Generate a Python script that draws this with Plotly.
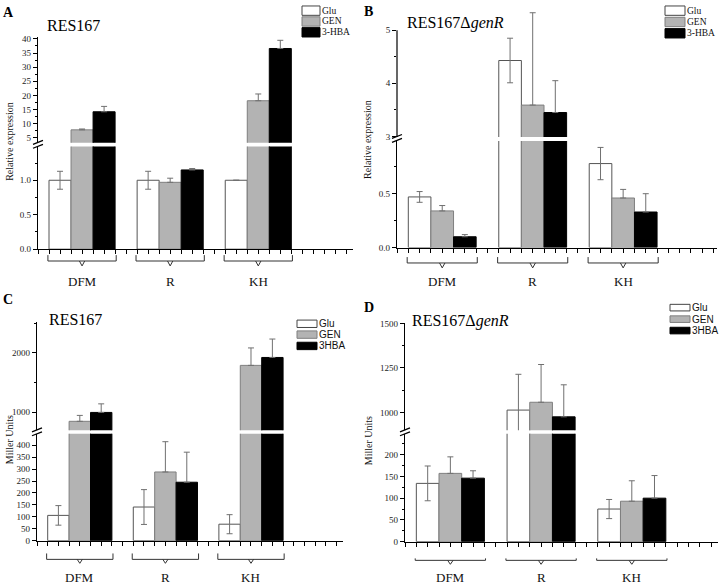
import plotly.graph_objects as go

W, H = 720, 588

groups = ["DFM", "R", "KH"]
names_ab = ["Glu", "GEN", "3-HBA"]
names_cd = ["Glu", "GEN", "3HBA"]

# panel A - RES167, relative expression
a_glu = [1.0, 1.0, 1.0]
a_glu_err = [0.13, 0.13, 0.0]
a_gen = [7.8, 0.97, 18.1]
a_gen_err = [0.3, 0.06, 2.4]
a_hba = [14.2, 1.15, 36.6]
a_hba_err = [1.9, 0.02, 2.9]

# panel B - RES167 delta genR, relative expression
b_glu = [0.47, 4.43, 0.78]
b_glu_err = [0.05, 0.42, 0.15]
b_gen = [0.34, 3.59, 0.46]
b_gen_err = [0.05, 1.74, 0.08]
b_hba = [0.10, 3.45, 0.33]
b_hba_err = [0.02, 0.60, 0.17]

# panel C - RES167, Miller units
c_glu = [106, 141, 69]
c_glu_err = [41, 73, 40]
c_gen = [843, 288, 1788]
c_gen_err = [100, 127, 295]
c_hba = [993, 245, 1922]
c_hba_err = [145, 126, 311]

# panel D - RES167 delta genR, Miller units
d_glu = [134, 1013, 75]
d_glu_err = [40, 201, 22]
d_gen = [157, 1057, 93]
d_gen_err = [38, 212, 47]
d_hba = [146, 975, 100]
d_hba_err = [17, 180, 52]

fills = ["white", "#b3b3b3", "black"]
edges = ["#555555", "#7f7f7f", "#000000"]
ERR = "#707070"
SERIF = "Liberation Serif, Times New Roman, serif"
SANS = "Liberation Sans, Arial, sans-serif"


def fx(x):
    return x / W


def fy(y):
    return 1 - y / H


panels = [
    dict(letter="A", let_pos=(8, 9), title="RES167", title_pos=(73, 22),
         ylabel="Relative expression", ylab_pos=(10, 140), names=names_ab,
         lfont=dict(family=SERIF, size=9.5),
         series=[(a_glu, a_glu_err), (a_gen, a_gen_err), (a_hba, a_hba_err)],
         xpx=(38, 353), xmax=14.3,
         low=dict(dom=(249, 144.7), rng=[0, 1.49], dtick=0.5, minor=0.25, fmt=".1f"),
         up=dict(dom=(141, 34), rng=[3.2, 40.5], dtick=5, minor=2.5, fmt=""),
         brk=142.5, br=(255, 261, 266), glab=282,
         leg=dict(x=(302, 320), rows=[2, 13, 24], h=9.5)),
    dict(letter="B", let_pos=(368, 8), title="RES167Δ<i>genR</i>", title_pos=(455, 19),
         ylabel="Relative expression", ylab_pos=(368, 138), names=names_ab,
         lfont=dict(family=SERIF, size=9.5),
         series=[(b_glu, b_glu_err), (b_gen, b_gen_err), (b_hba, b_hba_err)],
         xpx=(397, 717), xmax=14.15,
         low=dict(dom=(247.3, 139.1), rng=[0, 0.99], dtick=0.5, minor=0.25, fmt=".1f"),
         up=dict(dom=(135, 5.1), rng=[2.99, 5.4], dtick=1, minor=0.5, fmt="", lineto=26.7),
         brk=136.5, br=(257, 263, 268), glab=282,
         leg=dict(x=(665, 685), rows=[2, 13.5, 25], h=9.5)),
    dict(letter="C", let_pos=(8, 300), title="RES167", title_pos=(75, 320),
         ylabel="Miller Units", ylab_pos=(9, 443), names=names_cd,
         lfont=dict(family=SANS, size=10),
         series=[(c_glu, c_glu_err), (c_gen, c_gen_err), (c_hba, c_hba_err)],
         xpx=(37, 343), xmax=14.3,
         low=dict(dom=(545, 436.5), rng=[0, 448], dtick=50, minor=None, fmt=""),
         up=dict(dom=(433, 323), rng=[690, 2520], dtick=1000, minor=500, fmt=""),
         brk=434.5, br=(558, 564, 568), glab=582,
         leg=dict(x=(297, 317), rows=[321, 332, 343.5], h=7.5)),
    dict(letter="D", let_pos=(369, 308), title="RES167Δ<i>genR</i>", title_pos=(461, 322),
         ylabel="Miller Units", ylab_pos=(368, 444), names=names_cd,
         lfont=dict(family=SANS, size=10),
         series=[(d_glu, d_glu_err), (d_gen, d_gen_err), (d_hba, d_hba_err)],
         xpx=(405, 718), xmax=13.8,
         low=dict(dom=(546, 436.5), rng=[0, 248], dtick=50, minor=25, fmt=""),
         up=dict(dom=(433, 324), rng=[899, 1502], dtick=250, minor=125, fmt=""),
         brk=434.5, br=(563, 565, 569), glab=582,
         leg=dict(x=(670, 690), rows=[305, 316.7, 328.3], h=6.7)),
]

fig = go.Figure()
shapes = []
annots = []
layout = {}

for k, p in enumerate(panels):
    xi = "" if k == 0 else str(k + 1)
    yl = "" if k == 0 else str(2 * k + 1)
    yu = str(2 * k + 2)
    xname, ylname, yuname = "x" + xi, "y" + yl, "y" + yu

    layout["xaxis" + xi] = dict(
        domain=[fx(p["xpx"][0]), fx(p["xpx"][1])], range=[0, p["xmax"]], anchor=ylname,
        showline=True, linecolor="black", linewidth=1.2, ticks="outside", ticklen=4,
        tickcolor="black", tick0=0, dtick=0.5, showticklabels=False,
        showgrid=False, zeroline=False, fixedrange=True)

    for key, yi, yname in (("low", yl, ylname), ("up", yu, yuname)):
        s = p[key]
        ax = dict(
            domain=[fy(s["dom"][0]), fy(s["dom"][1])], range=s["rng"], anchor=xname,
            showline="lineto" not in s, linecolor="black", linewidth=1.2,
            ticks="outside", ticklen=4, tickcolor="black", tickwidth=1,
            tick0=0, dtick=s["dtick"], tickformat=s["fmt"],
            tickfont=dict(family=SERIF, size=9, color="#222"),
            showgrid=False, zeroline=False, fixedrange=True)
        if s["minor"]:
            ax["minor"] = dict(ticks="outside", ticklen=2, tickcolor="black",
                               tick0=0, dtick=s["minor"], showgrid=False)
        layout["yaxis" + yi] = ax
        if "lineto" in s:
            shapes.append(dict(type="line", xref="paper", yref="paper",
                               x0=fx(p["xpx"][0]), x1=fx(p["xpx"][0]),
                               y0=fy(s["dom"][0]), y1=fy(s["lineto"]),
                               line=dict(color="black", width=1.2)))

    # bars, drawn on both halves of the broken axis
    for j, (vals, err) in enumerate(p["series"]):
        xs = [4 * i + j + 1 for i in range(len(groups))]
        if j == 0:
            eb = dict(type="data", array=err, symmetric=True, color=ERR,
                      thickness=1, width=3)
        else:
            eb = dict(type="data", array=err, arrayminus=[0] * len(err),
                      symmetric=False, color=ERR, thickness=1, width=3)
        for yname in (ylname, yuname):
            fig.add_trace(go.Bar(
                x=xs, y=vals, width=1, xaxis=xname, yaxis=yname,
                marker=dict(color=fills[j], line=dict(color=edges[j], width=1)),
                error_y=eb, name=p["names"][j], showlegend=False))

    # axis break marks
    ax0 = p["xpx"][0]
    for dy in (-2, 2):
        c = p["brk"] + dy
        shapes.append(dict(type="line", xref="paper", yref="paper",
                           x0=fx(ax0 - 5), y0=fy(c + 2), x1=fx(ax0 + 5), y1=fy(c - 2),
                           line=dict(color="black", width=1.2)))

    # group brackets and labels
    yt, ym, yb = (fy(v) for v in p["br"])
    for i, g in enumerate(groups):
        l, r, c = 4 * i + 0.45, 4 * i + 3.55, 4 * i + 2
        path = (f"M {l},{yt} L {l},{ym} L {r},{ym} L {r},{yt} "
                f"M {c - 0.12},{ym} L {c},{yb} L {c + 0.12},{ym}")
        shapes.append(dict(type="path", xref=xname, yref="paper", path=path,
                           line=dict(color="#333", width=1)))
        annots.append(dict(x=c, y=fy(p["glab"]), xref=xname, yref="paper", text=g,
                           showarrow=False, xanchor="center", yanchor="middle",
                           font=dict(family=SERIF, size=13, color="#111")))

    # legend boxes
    lg = p["leg"]
    for j, nm in enumerate(p["names"]):
        t = lg["rows"][j]
        shapes.append(dict(type="rect", xref="paper", yref="paper",
                           x0=fx(lg["x"][0]), x1=fx(lg["x"][1]),
                           y0=fy(t + lg["h"]), y1=fy(t),
                           fillcolor=fills[j], line=dict(color=edges[j] if j else "#444", width=1)))
        annots.append(dict(x=fx(lg["x"][1] + 1), y=fy(t + lg["h"] / 2), xref="paper", yref="paper",
                           text=nm, showarrow=False, xanchor="left", yanchor="middle",
                           borderpad=0, font=dict(color="#111", **p["lfont"])))

    annots.append(dict(x=fx(p["let_pos"][0]), y=fy(p["let_pos"][1]), xref="paper", yref="paper",
                       text="<b>" + p["letter"] + "</b>", showarrow=False,
                       xanchor="center", yanchor="middle",
                       font=dict(family=SERIF, size=14, color="black")))
    annots.append(dict(x=fx(p["title_pos"][0]), y=fy(p["title_pos"][1]), xref="paper", yref="paper",
                       text=p["title"], showarrow=False, xanchor="center", yanchor="middle",
                       font=dict(family=SERIF, size=16, color="black")))
    annots.append(dict(x=fx(p["ylab_pos"][0]), y=fy(p["ylab_pos"][1]), xref="paper", yref="paper",
                       text=p["ylabel"], showarrow=False, textangle=-90,
                       xanchor="center", yanchor="middle",
                       font=dict(family=SERIF, size=10, color="#111")))

fig.update_layout(
    width=W, height=H, margin=dict(l=0, r=0, t=0, b=0),
    paper_bgcolor="white", plot_bgcolor="white",
    barmode="overlay", showlegend=False,
    shapes=shapes, annotations=annots, **layout)

# the page body keeps its default 8px margin otherwise
fig.write_html("out.html", config={"displayModeBar": False},
               post_script="document.body.style.margin='0';")
